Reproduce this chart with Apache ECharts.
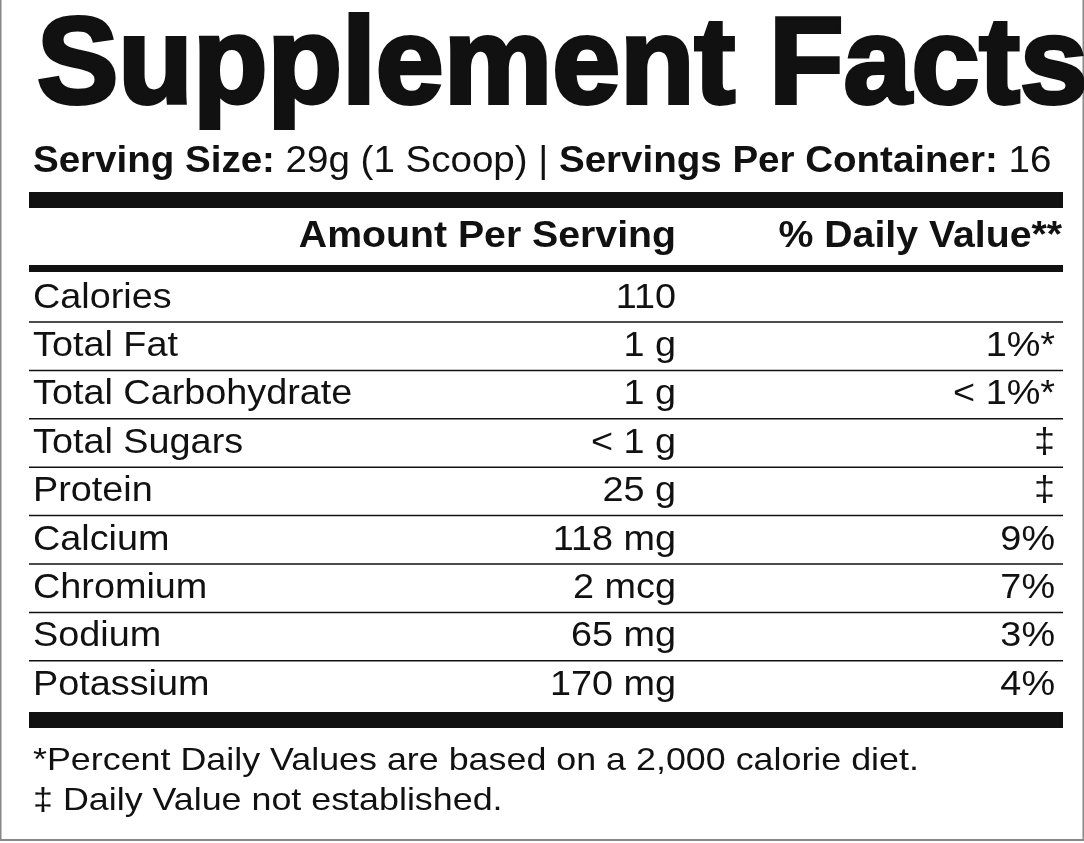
<!DOCTYPE html><html><head><meta charset="utf-8">
<script src="https://cdn.jsdelivr.net/npm/echarts@6/dist/echarts.min.js"></script>
<style>html,body{margin:0;padding:0;background:#fff}#c{width:1084px;height:843px}</style></head><body><div id="c"></div>
<script>
const nutrients=["Calories","Total Fat","Total Carbohydrate","Total Sugars","Protein","Calcium","Chromium","Sodium","Potassium"];
const amounts=["110","1 g","1 g","< 1 g","25 g","118 mg","2 mcg","65 mg","170 mg"];
const dailyValues=["","1%*","< 1%*","‡","‡","9%","7%","3%","4%"];
const footnotes=["*Percent Daily Values are based on a 2,000 calorie diet.","‡ Daily Value not established."];
const F='"Liberation Sans", Arial, sans-serif';
const g=[];
g.push({type:'rect',shape:{x:0.5,y:-2,width:1083,height:842},style:{fill:'#fff',stroke:'#888',lineWidth:2}});
g.push({type:'text',x:37,y:69,style:{text:'Supplement Facts',font:'bold 122px '+F,fill:'#111',stroke:'#111',lineWidth:4,verticalAlign:'middle'}});
g.push({type:'text',x:33,y:162,scaleX:1.07,style:{text:'{b|Serving Size:} 29g (1 Scoop) | {b|Servings Per Container:} 16',font:'36px '+F,fill:'#111',verticalAlign:'middle',rich:{b:{font:'bold 36px '+F,fill:'#111'}}}});
g.push({type:'rect',shape:{x:29,y:192,width:1034,height:16},style:{fill:'#111'}});
g.push({type:'text',x:676,y:237,scaleX:1.09,style:{text:'Amount Per Serving',font:'bold 36px '+F,fill:'#111',align:'right',verticalAlign:'middle'}});
g.push({type:'text',x:1062,y:237,scaleX:1.09,style:{text:'% Daily Value**',font:'bold 36px '+F,fill:'#111',align:'right',verticalAlign:'middle'}});
g.push({type:'rect',shape:{x:29,y:265,width:1034,height:7},style:{fill:'#111'}});
nutrients.forEach((n,i)=>{
  const cy=298+i*48.4;
  g.push({type:'text',x:33,y:cy,scaleX:1.08,style:{text:n,font:'35px '+F,fill:'#111',verticalAlign:'middle'}});
  g.push({type:'text',x:676,y:cy,scaleX:1.08,style:{text:amounts[i],font:'35px '+F,fill:'#111',align:'right',verticalAlign:'middle'}});
  g.push({type:'text',x:1055,y:cy,scaleX:1.08,style:{text:dailyValues[i],font:'35px '+F,fill:'#111',align:'right',verticalAlign:'middle'}});
  if(i<nutrients.length-1) g.push({type:'line',shape:{x1:29,y1:cy+24,x2:1063,y2:cy+24},style:{stroke:'#111',lineWidth:1.5}});
});
g.push({type:'rect',shape:{x:29,y:712,width:1034,height:16},style:{fill:'#111'}});
footnotes.forEach((t,i)=>g.push({type:'text',x:33,y:761+i*40,scaleX:1.12,style:{text:t,font:'32px '+F,fill:'#111',verticalAlign:'middle'}}));
const ch=echarts.init(document.getElementById('c'),null,{renderer:'canvas'});
ch.setOption({backgroundColor:'#fff',animation:false,graphic:{elements:g}});
</script></body></html>
